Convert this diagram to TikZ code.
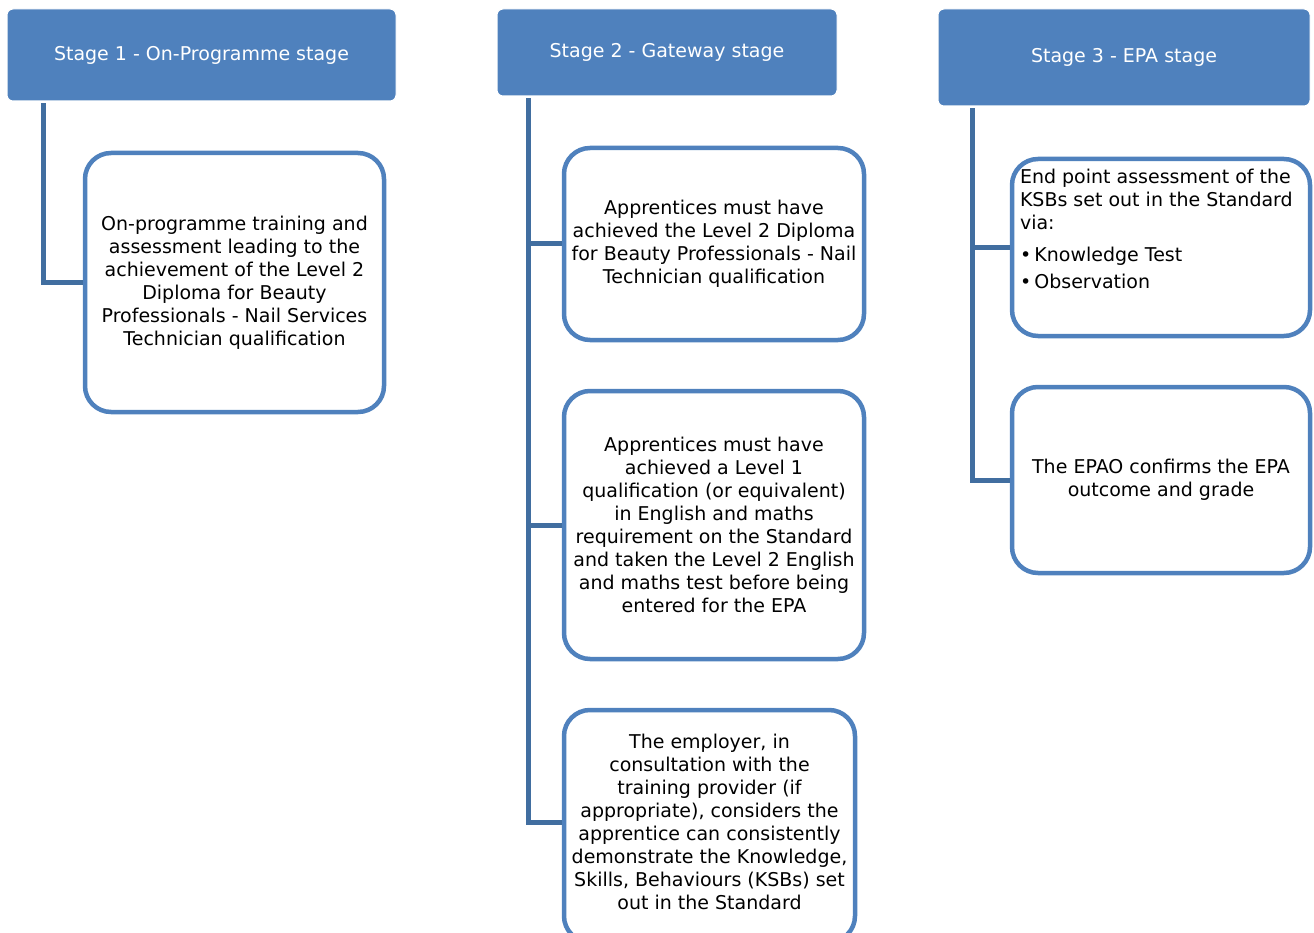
\documentclass[tikz,border=0pt]{standalone}
\usepackage{fontspec}
\setmainfont{DejaVu Sans}
\usetikzlibrary{calc}
\definecolor{hdr}{RGB}{79,129,189}
\definecolor{conn}{RGB}{65,110,160}
\begin{document}
\begin{tikzpicture}[x=1pt,y=-1pt,
  hdrbox/.style={fill=hdr, draw=white, line width=1pt, rounded corners=6pt, text=white,
    font=\fontsize{19}{23}\selectfont, align=center, inner sep=0pt},
  kidbox/.style={draw=hdr, line width=4.5pt, fill=white, rounded corners=26pt,
    font=\fontsize{19}{23}\selectfont, align=center, inner sep=0pt},
  link/.style={draw=conn, line width=5pt}]
\useasboundingbox (0,0) rectangle (1314,933);

% headers
\node[hdrbox, minimum width=389pt, minimum height=92pt] (h1) at (201.5,55) {Stage 1 - On-Programme stage};
\node[hdrbox, minimum width=340pt, minimum height=87pt] (h2) at (667,52.5) {Stage 2 - Gateway stage};
\node[hdrbox, minimum width=372pt, minimum height=97pt] (h3) at (1124,57.5) {Stage 3 - EPA stage};

% child boxes
\node[kidbox, minimum width=299pt, minimum height=259pt] (c1) at (234.5,282.5)
  {On-programme training and\\assessment leading to the\\achievement of the Level 2\\Diploma for Beauty\\Professionals - Nail Services\\Technician qualification};

\node[kidbox, minimum width=300pt, minimum height=192pt] (c2) at (714,244)
  {Apprentices must have\\achieved the Level 2 Diploma\\for Beauty Professionals - Nail\\Technician qualification};
\node[kidbox, minimum width=300pt, minimum height=268pt] (c3) at (714,525)
  {Apprentices must have\\achieved a Level 1\\qualification (or equivalent)\\in English and maths\\requirement on the Standard\\and taken the Level 2 English\\and maths test before being\\entered for the EPA};
\node[kidbox, minimum width=291pt, minimum height=232pt] (c4) at (709.5,826)
  {\parbox[c][232pt][c]{291pt}{\centering The employer, in\\consultation with the\\training provider (if\\appropriate), considers the\\apprentice can consistently\\demonstrate the Knowledge,\\Skills, Behaviours (KSBs) set\\out in the Standard\par\vspace*{8pt}}};

\node[kidbox, minimum width=298pt, minimum height=177pt] (c5) at (1161,247.5)
  {\parbox[c][177pt][t]{282pt}{\raggedright\vspace*{10pt}End point assessment of the\\KSBs set out in the Standard\\via:\\[9pt]\hspace*{0pt}•\,Knowledge Test\\[4pt]\hspace*{0pt}•\,Observation}};
\node[kidbox, minimum width=298pt, minimum height=186pt] (c6) at (1161,480)
  {The EPAO confirms the EPA\\outcome and grade};

% connectors
\draw[link] ($(h1.south west)+(37,2)$) |- (c1.west);
\draw[link] ($(h2.south west)+(32,2)$) |- ([yshift=4pt]c4.west);
\draw[link] ($(h2.south west)+(32,2)$) |- (c2.west);
\draw[link] ($(h2.south west)+(32,2)$) |- (c3.west);
\draw[link] ($(h3.south west)+(35,2)$) |- (c6.west);
\draw[link] ($(h3.south west)+(35,2)$) |- (c5.west);
\end{tikzpicture}
\end{document}
